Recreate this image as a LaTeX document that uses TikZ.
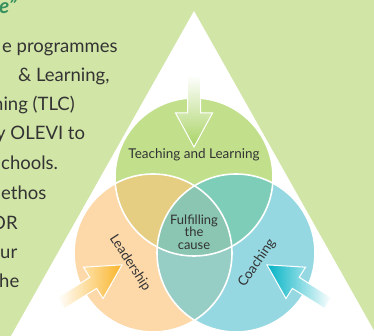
\documentclass[tikz,border=0pt]{standalone}
\usepackage{fontspec}
\setmainfont{Lato}

\definecolor{bggreen}{RGB}{209,229,166}
\definecolor{tlgreen}{RGB}{194,224,140}
\definecolor{ldpeach}{RGB}{253,217,170}
\definecolor{coblue}{RGB}{150,216,226}
\definecolor{tlld}{RGB}{229,205,130}
\definecolor{tlco}{RGB}{126,205,185}
\definecolor{ldco}{RGB}{150,205,196}
\definecolor{causemid}{RGB}{138,198,178}
\definecolor{textgrey}{RGB}{51,51,51}
\definecolor{titlegreen}{RGB}{55,145,95}
\definecolor{arrowgreen}{RGB}{168,211,100}
\definecolor{arroworange}{RGB}{250,180,40}
\definecolor{arrowteal}{RGB}{0,178,196}

\begin{document}
\begin{tikzpicture}[x=1pt, y=1pt,
    blurb/.style={anchor=base west, inner sep=0pt, text=textgrey, font=\fontsize{18.5}{20}\selectfont},
    ringlabel/.style={text=textgrey, font=\fontsize{13.5}{14}\selectfont},
    ring/.style={draw=white, line width=1.6pt},
    arrowbody/.style={draw=white, line width=1pt}]
    \useasboundingbox (0,0) rectangle (374,336);
    \fill [bggreen] (0,0) rectangle (374,336);
    \fill [white] (194,325) -- (11,0) -- (377,0) -- cycle;

    % three circles
    \def\rad{79}
    \coordinate (tl) at (194,159);
    \coordinate (ld) at (153,83);
    \coordinate (co) at (236,83);
    \fill [tlgreen] (tl) circle (\rad);
    \fill [ldpeach] (ld) circle (\rad);
    \fill [coblue] (co) circle (\rad);
    \begin{scope}
        \clip (tl) circle (\rad);
        \fill [tlld] (ld) circle (\rad);
        \fill [tlco] (co) circle (\rad);
    \end{scope}
    \begin{scope}
        \clip (ld) circle (\rad);
        \fill [ldco] (co) circle (\rad);
        \clip (tl) circle (\rad);
        \fill [causemid] (co) circle (\rad);
    \end{scope}
    \draw [ring] (tl) circle (\rad);
    \draw [ring] (ld) circle (\rad);
    \draw [ring] (co) circle (\rad);

    % arrows pointing in
    \begin{scope}[shift={(194,261)}, rotate=-90]
        \path [arrowbody, top color=white, bottom color=arrowgreen] (0,6.5) -- (38,6.5) -- (38,18.5) -- (72,0) -- (38,-18.5) -- (38,-6.5) -- (0,-6.5) -- cycle;
    \end{scope}
    \begin{scope}[shift={(61,33)}, rotate=32]
        \path [arrowbody, left color=white, right color=arroworange] (0,6.5) -- (38,6.5) -- (38,18.5) -- (72,0) -- (38,-18.5) -- (38,-6.5) -- (0,-6.5) -- cycle;
    \end{scope}
    \begin{scope}[shift={(328,33)}, rotate=148]
        \path [arrowbody, left color=arrowteal, right color=white] (0,6.5) -- (38,6.5) -- (38,18.5) -- (72,0) -- (38,-18.5) -- (38,-6.5) -- (0,-6.5) -- cycle;
    \end{scope}

    \node [ringlabel] (tltext) at (194,181) {Teaching and Learning};
    \node [ringlabel, rotate=-57] (ldtext) at (130,73) {Leadership};
    \node [ringlabel, rotate=56] (cotext) at (257,73) {Coaching};
    \node [ringlabel, align=center, font=\fontsize{13}{12.5}\selectfont] (cause) at (194,104) {Fulfilling\\the\\cause};

    % text on the left, cut by the page edge
    \node [anchor=base west, inner sep=0pt, text=titlegreen, font=\fontsize{21}{22}\selectfont\bfseries\itshape] (title) at (-1,322) {e”};
    \node [blurb] (line1) at (2,283) {e programmes};
    \node [blurb] (line2) at (18,254) {\& Learning,};
    \node [blurb] (line3) at (-7,225) {hing (TLC)};
    \node [blurb] (line4) at (-4,196) {y OLEVI to};
    \node [blurb] (line5) at (1,166) {chools.};
    \node [blurb] (line6) at (1,136) {ethos};
    \node [blurb] (line7) at (-9,106) {OR};
    \node [blurb] (line8) at (0,77) {ur};
    \node [blurb] (line9) at (-1,48) {he};
\end{tikzpicture}
\end{document}
